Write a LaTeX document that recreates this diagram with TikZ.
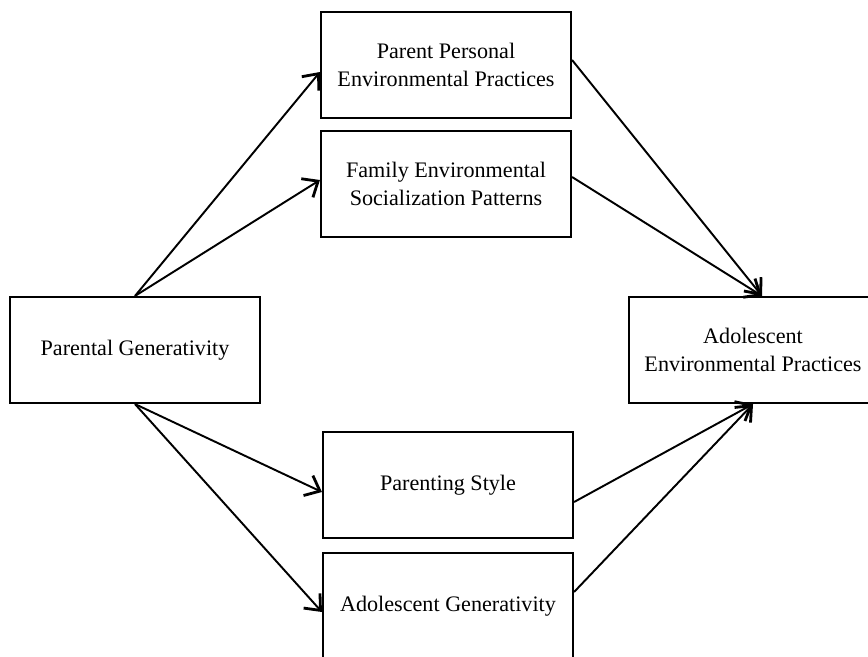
\documentclass[tikz,border=0pt]{standalone}
\usepackage{fontspec}
\setmainfont{Liberation Serif}
\usetikzlibrary{arrows.meta}

\tikzset{
    blk/.style={draw, line width=1.2pt, minimum width=5cm, minimum height=2.12cm, align=center, font=\fontsize{12.6}{15.5}\selectfont},
    lnk/.style={->, line width=1.1pt, >={Straight Barb[length=2.6mm,width=4.4mm,line width=1.6pt]}}
}

\begin{document}
\begin{tikzpicture}
    % page size
    \clip (0,0) rectangle (17.36,13.12);

    \node (pg) at (2.70,6.12) [blk] {Parental Generativity};
    \node (ppep) at (8.92,11.82) [blk] {Parent Personal\\Environmental Practices};
    \node (fesp) at (8.92,9.44) [blk] {Family Environmental\\Socialization Patterns};
    \node (ps) at (8.96,3.42) [blk] {Parenting Style};
    \node (ag) at (8.96,1.00) [blk] {Adolescent Generativity};
    \node (aep) at (15.06,6.12) [blk, minimum width=4.96cm] {Adolescent\\Environmental Practices};

     \draw [lnk] (pg.north) -- ([yshift=-0.14cm]ppep.west);
     \draw [lnk] (pg.north) -- ([yshift=0.08cm]fesp.west);
     \draw [lnk] (pg.south) -- ([yshift=-0.14cm]ps.west);
     \draw [lnk] (pg.south) -- ([yshift=-0.12cm]ag.west);

     \draw [lnk] ([yshift=0.10cm]ppep.east) -- ([xshift=0.18cm]aep.north);
     \draw [lnk] ([yshift=0.14cm]fesp.east) -- ([xshift=0.18cm]aep.north);
     \draw [lnk] ([yshift=-0.34cm]ps.east) -- (aep.south);
     \draw [lnk] ([yshift=0.28cm]ag.east) -- (aep.south);

\end{tikzpicture}
\end{document}
